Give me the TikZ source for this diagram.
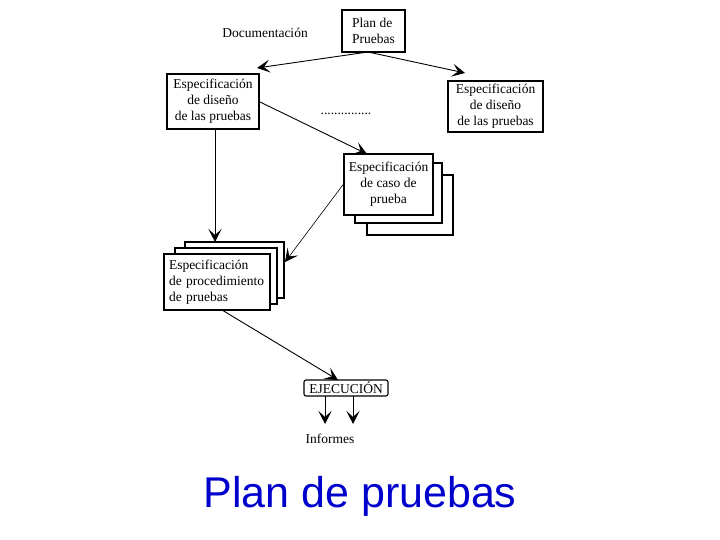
\documentclass[tikz,border=0pt]{standalone}
\usepackage{fontspec}
\setmainfont{Liberation Serif}
\newfontfamily\titlefont{Liberation Sans}
\usetikzlibrary{arrows.meta}
\definecolor{titleblue}{RGB}{0,0,204}
\tikzset{
  dtext/.style={font=\fontsize{13.5}{16}\selectfont, inner sep=0pt},
  docbox/.style={draw, line width=1.5pt, fill=white, inner sep=2pt, dtext},
  conn/.style={line width=0.9pt, -{Stealth[length=13pt,width=13pt,inset=6pt]}},
  thinconn/.style={line width=0.6pt, -{Stealth[length=13pt,width=13pt,inset=6pt]}},
}
\begin{document}
\begin{tikzpicture}[x=1pt,y=-1pt]
\useasboundingbox (0,0) rectangle (720,540);

% top
\node[docbox, minimum width=63pt, minimum height=42pt, align=left] (plan) at (373.5,31) {Plan de\\Pruebas};
\node[dtext] (doc) at (265,33) {Documentación};

% design spec boxes
\node[docbox, minimum width=92pt, minimum height=55pt, align=center] (dizq) at (213,101.5) {Especificación\\de diseño\\de las pruebas};
\node[docbox, minimum width=95pt, minimum height=51pt, align=center] (dder) at (495.5,106.5) {Especificación\\de diseño\\de las pruebas};
\node[dtext] (dots) at (346,114) {...............};

% case spec stack
\node[docbox, minimum width=86pt, minimum height=60pt] (caso3) at (410,205) {};
\node[docbox, minimum width=87pt, minimum height=60pt] (caso2) at (398.5,193) {};
\node[docbox, minimum width=89pt, minimum height=61pt, align=center] (caso) at (388.5,184.5) {Especificación\\de caso de\\prueba};

% procedure spec stack
\node[docbox, minimum width=99pt, minimum height=56pt] (proc3) at (234.5,270) {};
\node[docbox, minimum width=102pt, minimum height=56pt] (proc2) at (226,276) {};
\node[docbox, minimum width=106pt, minimum height=56pt, align=left, text width=96pt] (proc) at (217,282) {Especificación\\de procedimiento\\de pruebas};

% execution
\node[draw, line width=1.1pt, rounded corners=2pt, minimum width=84pt, minimum height=16pt, inner sep=0pt, dtext] (ejec) at (346,388) {EJECUCIÓN};
\node[dtext] (inf) at (330,439) {Informes};

% connectors
\coordinate (pl) at (368,52);
\coordinate (tipl) at (257,68);
\coordinate (tipr) at (465,73);
\draw[conn] (pl) -- (tipl);
\draw[conn] (pl) -- (tipr);

\coordinate (dr) at (260,102);
\coordinate (ct) at (367,154);
\draw[conn] (dr) -- (ct);

\coordinate (db) at (215,129);
\coordinate (pt) at (215,242);
\draw[conn] (db) -- (pt);

\coordinate (cl) at (345,182);
\coordinate (pr) at (285,262);
\draw[thinconn] (cl) -- (pr);

\coordinate (pb) at (222,310);
\coordinate (et) at (338,380);
\draw[conn] (pb) -- (et);

\coordinate (e1) at (325,396);
\coordinate (e2) at (353,396);
\coordinate (i1) at (325,424);
\coordinate (i2) at (353,424);
\draw[conn] (e1) -- (i1);
\draw[conn] (e2) -- (i2);

% title
\node[font=\titlefont\fontsize{43}{50}\selectfont, text=titleblue, anchor=base, inner sep=0pt] (title) at (360,507) {Plan de pruebas};
\end{tikzpicture}
\end{document}
